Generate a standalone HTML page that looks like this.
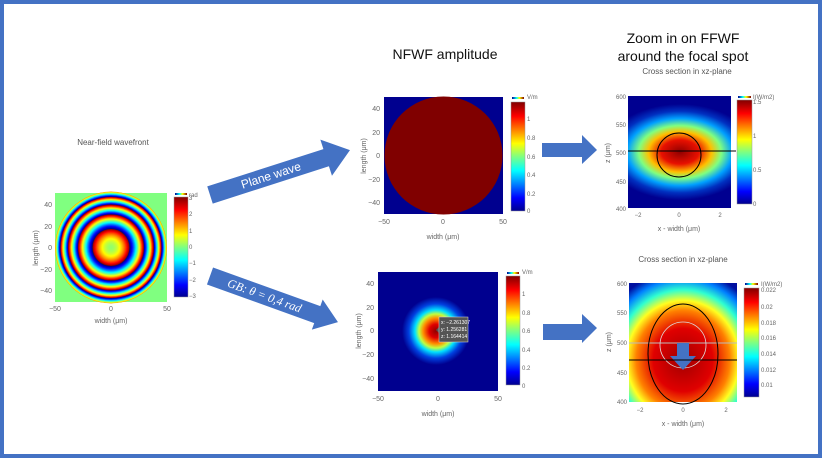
<!DOCTYPE html>
<html><head><meta charset="utf-8"><style>
html,body{margin:0;padding:0;background:#fff}
svg{display:block}
text{font-family:"Liberation Sans",sans-serif}
.t{font-size:7px;fill:#666}
.ttl{font-size:8px;fill:#555}
.big{font-family:"Liberation Sans",sans-serif;font-size:14px;fill:#111}
</style></head><body>
<svg id="s" width="822" height="458" viewBox="0 0 822 458" xmlns="http://www.w3.org/2000/svg">
<defs>
<linearGradient id="jetv" x1="0" y1="1" x2="0" y2="0">
<stop offset="0" stop-color="#00008f"/><stop offset="0.12" stop-color="#0000ff"/><stop offset="0.37" stop-color="#00ffff"/><stop offset="0.5" stop-color="#80ff80"/><stop offset="0.62" stop-color="#ffff00"/><stop offset="0.87" stop-color="#ff0000"/><stop offset="1" stop-color="#800000"/>
</linearGradient>
<linearGradient id="jeth" x1="0" y1="0" x2="1" y2="0">
<stop offset="0" stop-color="#00008f"/><stop offset="0.37" stop-color="#00ffff"/><stop offset="0.62" stop-color="#ffff00"/><stop offset="1" stop-color="#800000"/>
</linearGradient>
<radialGradient id="gb" cx="0.5" cy="0.5" r="0.5">
<stop offset="0" stop-color="#900000"/><stop offset="0.2" stop-color="#e00000"/><stop offset="0.38" stop-color="#ff9000"/><stop offset="0.5" stop-color="#c0ff40"/><stop offset="0.62" stop-color="#00e0ff"/><stop offset="0.8" stop-color="#0040e0"/><stop offset="1" stop-color="#00008f"/>
</radialGradient>
<radialGradient id="ff1" cx="0.5" cy="0.5" r="0.5">
<stop offset="0" stop-color="#900000"/><stop offset="0.25" stop-color="#e81000"/><stop offset="0.42" stop-color="#ffc000"/><stop offset="0.55" stop-color="#80ff80"/><stop offset="0.7" stop-color="#00a0ff"/><stop offset="0.85" stop-color="#0030c0"/><stop offset="1" stop-color="#000090"/>
</radialGradient>
<radialGradient id="ff2" cx="0.5" cy="0.5" r="0.5">
<stop offset="0" stop-color="#a00000"/><stop offset="0.35" stop-color="#e00000"/><stop offset="0.55" stop-color="#ff8000"/><stop offset="0.66" stop-color="#ffff20"/><stop offset="0.78" stop-color="#30ffd0"/><stop offset="0.9" stop-color="#0080ff"/><stop offset="1" stop-color="#0010a0"/>
</radialGradient>
<clipPath id="c1"><circle cx="111" cy="247.5" r="56"/></clipPath>
<clipPath id="cr1"><rect x="628" y="96" width="103" height="112"/></clipPath>
<clipPath id="cr2"><rect x="629" y="283" width="108" height="119"/></clipPath>
</defs>
<rect x="2" y="2" width="818" height="454" fill="#fff" stroke="#4472c4" stroke-width="4"/>

<!-- Left plot -->
<text class="ttl" x="113" y="145" text-anchor="middle">Near-field wavefront</text>
<rect x="55" y="193" width="112" height="109" fill="#80ff80"/>
<g id="rings" clip-path="url(#c1)"></g>
<g class="t" text-anchor="end">
<text x="52" y="207">40</text><text x="52" y="229">20</text><text x="52" y="250">0</text><text x="52" y="272">−20</text><text x="52" y="293">−40</text></g>
<g class="t" text-anchor="middle"><text x="55" y="311">−50</text><text x="111" y="311">0</text><text x="167" y="311">50</text></g>
<text class="t" x="111" y="323" text-anchor="middle">width (μm)</text>
<text class="t" transform="translate(38,248) rotate(-90)" text-anchor="middle">length (μm)</text>
<rect x="174" y="197" width="14" height="100" fill="url(#jetv)" stroke="#999" stroke-width="0.5"/>
<rect x="175" y="193" width="12" height="2" fill="url(#jeth)"/>
<g class="t" style="font-size:6px"><text x="189" y="197">rad</text><text x="189" y="200">3</text><text x="189" y="216">2</text><text x="189" y="233">1</text><text x="189" y="249">0</text><text x="189" y="265">−1</text><text x="189" y="282">−2</text><text x="189" y="298">−3</text></g>

<!-- arrows to middle -->
<g transform="translate(210,195) rotate(-17.8)">
<polygon points="0,-9 122,-9 122,-19 147,0 122,19 122,9 0,9" fill="#4472c4"/>
<text x="64" y="4" font-size="12" fill="#fff" text-anchor="middle">Plane wave</text>
</g>
<g transform="translate(210,276) rotate(19.8)">
<polygon points="0,-9 114,-9 114,-16 136,0 114,16 114,9 0,9" fill="#4472c4"/>
<text x="58" y="4" font-size="12" fill="#fff" text-anchor="middle" style="font-family:'Liberation Serif',serif;font-style:italic">GB: θ = 0,4 rad</text>
</g>

<!-- Middle top -->
<text class="big" x="445" y="59" text-anchor="middle">NFWF amplitude</text>
<rect x="384" y="97" width="119" height="117" fill="#00008f"/>
<circle cx="443.5" cy="155.5" r="59" fill="#800000"/>
<g class="t" text-anchor="end"><text x="380" y="111">40</text><text x="380" y="135">20</text><text x="380" y="158">0</text><text x="380" y="182">−20</text><text x="380" y="205">−40</text></g>
<g class="t" text-anchor="middle"><text x="384" y="224">−50</text><text x="443" y="224">0</text><text x="503" y="224">50</text></g>
<text class="t" x="443" y="239" text-anchor="middle">width (μm)</text>
<text class="t" transform="translate(366,156) rotate(-90)" text-anchor="middle">length (μm)</text>
<rect x="511" y="102" width="14" height="109" fill="url(#jetv)" stroke="#999" stroke-width="0.5"/>
<rect x="512" y="97" width="12" height="2" fill="url(#jeth)"/>
<g class="t" style="font-size:6px"><text x="527" y="99">V/m</text><text x="527" y="121">1</text><text x="527" y="140">0.8</text><text x="527" y="159">0.6</text><text x="527" y="177">0.4</text><text x="527" y="196">0.2</text><text x="527" y="213">0</text></g>

<!-- Middle bottom -->
<rect x="378" y="272" width="120" height="119" fill="#00008f"/>
<circle cx="436" cy="331" r="34" fill="url(#gb)"/>
<polygon points="439,327 436,330 439,333" fill="#555"/>
<rect x="439" y="317" width="29" height="25" fill="#555" stroke="#ddd" stroke-width="0.5"/>
<g style="font-size:5px" fill="#fff"><text x="441" y="324">x: −2.261307</text><text x="441" y="331">y: 1.256281</text><text x="441" y="338">z: 1.164414</text></g>
<g class="t" text-anchor="end"><text x="374" y="286">40</text><text x="374" y="310">20</text><text x="374" y="333">0</text><text x="374" y="357">−20</text><text x="374" y="381">−40</text></g>
<g class="t" text-anchor="middle"><text x="378" y="401">−50</text><text x="438" y="401">0</text><text x="498" y="401">50</text></g>
<text class="t" x="438" y="416" text-anchor="middle">width (μm)</text>
<text class="t" transform="translate(361,331) rotate(-90)" text-anchor="middle">length (μm)</text>
<rect x="506" y="276" width="14" height="109" fill="url(#jetv)" stroke="#999" stroke-width="0.5"/>
<rect x="507" y="272" width="12" height="2" fill="url(#jeth)"/>
<g class="t" style="font-size:6px"><text x="522" y="274">V/m</text><text x="522" y="296">1</text><text x="522" y="315">0.8</text><text x="522" y="333">0.6</text><text x="522" y="352">0.4</text><text x="522" y="370">0.2</text><text x="522" y="388">0</text></g>

<!-- right arrows -->
<polygon points="542,143 582,143 582,135 597,150 582,164 582,157 542,157" fill="#4472c4"/>
<polygon points="543,324 582,324 582,314 597,328 582,343 582,340 543,340" fill="#4472c4"/>

<!-- Right top -->
<text class="big" x="683" y="43" text-anchor="middle">Zoom in on FFWF</text>
<text class="big" x="683" y="61" text-anchor="middle">around the focal spot</text>
<text class="ttl" x="687" y="74" text-anchor="middle">Cross section in xz-plane</text>
<g clip-path="url(#cr1)"><rect x="628" y="96" width="103" height="112" fill="#000090"/>
<ellipse cx="680" cy="152" rx="75" ry="48" fill="url(#ff1)"/></g>
<circle cx="679" cy="155" r="22" fill="none" stroke="#000" stroke-width="1"/>
<line x1="628" y1="151" x2="736" y2="151" stroke="#000" stroke-width="1"/>
<g class="t" text-anchor="end" style="font-size:6px"><text x="626" y="99">600</text><text x="626" y="127">550</text><text x="626" y="155">500</text><text x="626" y="184">450</text><text x="626" y="211">400</text></g>
<g class="t" text-anchor="middle" style="font-size:6px"><text x="638" y="217">−2</text><text x="679" y="217">0</text><text x="720" y="217">2</text></g>
<text class="t" x="679" y="231" text-anchor="middle">x - width (μm)</text>
<text class="t" transform="translate(610,153) rotate(-90)" text-anchor="middle">z (μm)</text>
<rect x="737" y="100" width="15" height="104" fill="url(#jetv)" stroke="#999" stroke-width="0.5"/>
<rect x="738" y="96" width="13" height="2" fill="url(#jeth)"/>
<g class="t" style="font-size:6px"><text x="753" y="99">I(W/m2)</text><text x="753" y="104">1.5</text><text x="753" y="138">1</text><text x="753" y="172">0.5</text><text x="753" y="206">0</text></g>

<!-- Right bottom -->
<text class="ttl" x="683" y="262" text-anchor="middle">Cross section in xz-plane</text>
<g clip-path="url(#cr2)"><rect x="629" y="283" width="108" height="119" fill="#0010a0"/>
<ellipse cx="683" cy="360" rx="85" ry="90" fill="url(#ff2)"/></g>
<line x1="629" y1="343" x2="737" y2="343" stroke="#bbb" stroke-width="1"/>
<circle cx="683" cy="345" r="23" fill="none" stroke="#ddd" stroke-width="0.8"/>
<polygon points="677,343 689,343 689,356 696,356 683,370 670,356 677,356" fill="#4472c4"/>
<ellipse cx="683" cy="354" rx="35" ry="50" fill="none" stroke="#000" stroke-width="1"/>
<line x1="629" y1="360" x2="737" y2="360" stroke="#000" stroke-width="1"/>
<g class="t" text-anchor="end" style="font-size:6px"><text x="627" y="286">600</text><text x="627" y="315">550</text><text x="627" y="345">500</text><text x="627" y="375">450</text><text x="627" y="404">400</text></g>
<g class="t" text-anchor="middle" style="font-size:6px"><text x="640" y="412">−2</text><text x="683" y="412">0</text><text x="726" y="412">2</text></g>
<text class="t" x="683" y="426" text-anchor="middle">x - width (μm)</text>
<text class="t" transform="translate(611,342) rotate(-90)" text-anchor="middle">z (μm)</text>
<rect x="744" y="288" width="15" height="109" fill="url(#jetv)" stroke="#999" stroke-width="0.5"/>
<rect x="745" y="283" width="13" height="2" fill="url(#jeth)"/>
<g class="t" style="font-size:6px"><text x="761" y="286">I(W/m2)</text><text x="761" y="292">0.022</text><text x="761" y="309">0.02</text><text x="761" y="325">0.018</text><text x="761" y="340">0.016</text><text x="761" y="356">0.014</text><text x="761" y="372">0.012</text><text x="761" y="387">0.01</text></g>
</svg>
<script>
function jet(v){v=((v%1)+1)%1;var r=Math.min(1,Math.max(0,1.5-Math.abs(4*v-3))),g=Math.min(1,Math.max(0,1.5-Math.abs(4*v-2))),b=Math.min(1,Math.max(0,1.5-Math.abs(4*v-1)));return 'rgb('+Math.round(r*255)+','+Math.round(g*255)+','+Math.round(b*255)+')';}
var g=document.getElementById('rings'),R=56,h='';
for(var r=R;r>0;r-=0.5){var ph=0.52+4.2*(r/R)*(r/R);h+='<circle cx="111" cy="247.5" r="'+r+'" fill="'+jet(ph)+'"/>';}
g.innerHTML=h;
</script>
</body></html>
